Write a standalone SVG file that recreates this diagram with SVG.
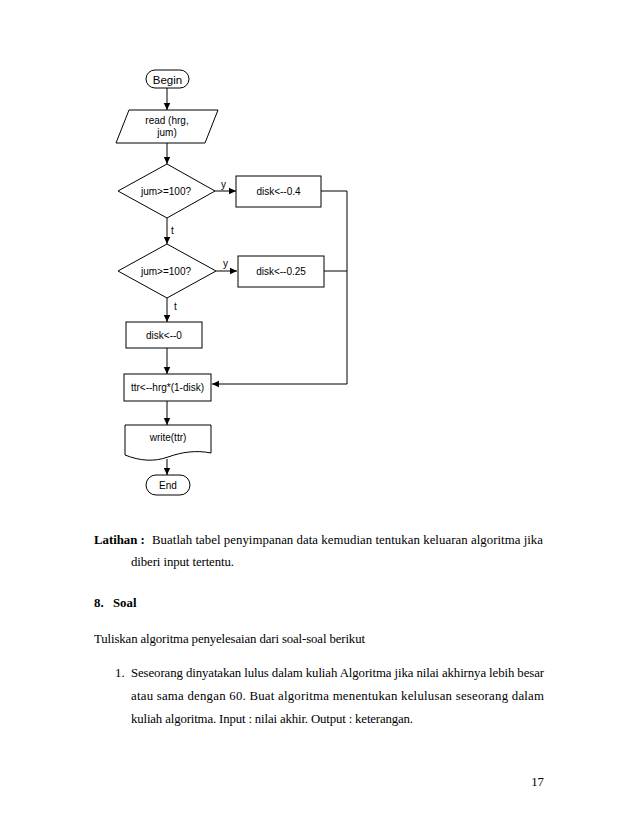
<svg xmlns="http://www.w3.org/2000/svg" width="638" height="826" viewBox="0 0 638 826">
<style>
.s{fill:#fff;stroke:#000;stroke-width:1}
.c{fill:none;stroke:#000;stroke-width:1}
.f{font-family:"Liberation Sans",Arial,sans-serif;font-size:10px;fill:#000}
.p{font-family:"Liberation Serif","Times New Roman",serif;font-size:12.8px;fill:#000}
.b{font-weight:bold}
</style>
<defs>
<marker id="a" markerWidth="8" markerHeight="8" refX="7" refY="4" orient="auto" markerUnits="userSpaceOnUse">
<path d="M0,0.8 L7,4 L0,7.2 Z" fill="#000"/>
</marker>
</defs>
<rect width="638" height="826" fill="#fff"/>
<g id="connectors">
<line class="c" x1="167" y1="88" x2="167" y2="110" marker-end="url(#a)"/>
<line class="c" x1="167" y1="143" x2="167" y2="164" marker-end="url(#a)"/>
<line class="c" x1="215" y1="191" x2="236" y2="191" marker-end="url(#a)"/>
<line class="c" x1="167" y1="218" x2="167" y2="244" marker-end="url(#a)"/>
<line class="c" x1="216" y1="271" x2="237" y2="271" marker-end="url(#a)"/>
<line class="c" x1="167" y1="298" x2="167" y2="322" marker-end="url(#a)"/>
<line class="c" x1="167" y1="348" x2="167" y2="374" marker-end="url(#a)"/>
<line class="c" x1="167" y1="401" x2="167" y2="425" marker-end="url(#a)"/>
<line class="c" x1="167" y1="459" x2="167" y2="475" marker-end="url(#a)"/>
<polyline class="c" points="321,191 347,191 347,384 212,384" marker-end="url(#a)"/>
<line class="c" x1="324" y1="271" x2="347" y2="271"/>
<text class="f" x="221" y="188">y</text>
<text class="f" x="223" y="267">y</text>
<text class="f" x="171" y="234">t</text>
<text class="f" x="174" y="310">t</text>
</g>
<g id="begin">
<rect class="s" x="146" y="70" width="43" height="18" rx="9"/>
<text class="f" x="167.5" y="83.5" text-anchor="middle" style="font-size:11.5px">Begin</text>
</g>
<g id="read">
<polygon class="s" points="129,110 218,110 205,143 116,143"/>
<text class="f" x="167" y="124" text-anchor="middle">read (hrg,</text>
<text class="f" x="167" y="136" text-anchor="middle">jum)</text>
</g>
<g id="dec1">
<polygon class="s" points="167,164 215,191 167,218 118,191"/>
<text class="f" x="166" y="194.5" text-anchor="middle">jum&gt;=100?</text>
</g>
<g id="disk04">
<rect class="s" x="236" y="176" width="85" height="31"/>
<text class="f" x="278.5" y="194.5" text-anchor="middle">disk&lt;--0.4</text>
</g>
<g id="dec2">
<polygon class="s" points="167,244 216,271 167,298 118,271"/>
<text class="f" x="166" y="274.5" text-anchor="middle">jum&gt;=100?</text>
</g>
<g id="disk025">
<rect class="s" x="238" y="256" width="86" height="31"/>
<text class="f" x="281" y="274.5" text-anchor="middle">disk&lt;--0.25</text>
</g>
<g id="disk0">
<rect class="s" x="126" y="322" width="76" height="26"/>
<text class="f" x="164" y="338.5" text-anchor="middle">disk&lt;--0</text>
</g>
<g id="ttr">
<rect class="s" x="124" y="374" width="87" height="27"/>
<text class="f" x="167.5" y="390.5" text-anchor="middle">ttr&lt;--hrg*(1-disk)</text>
</g>
<g id="write">
<path class="s" d="M125,425 L211,425 L211,453 C196,450 182,452 168,457 C154,462 140,461 125,455 Z"/>
<text class="f" x="168" y="441" text-anchor="middle">write(ttr)</text>
</g>
<g id="end">
<rect class="s" x="146" y="475" width="44" height="20" rx="10"/>
<text class="f" x="168" y="489" text-anchor="middle">End</text>
</g>
<text class="p b" x="94" y="544">Latihan :</text>
<text class="p" x="152" y="544" textLength="391" lengthAdjust="spacing">Buatlah tabel penyimpanan data kemudian tentukan keluaran algoritma jika</text>
<text class="p" x="131" y="566" textLength="103" lengthAdjust="spacing">diberi input tertentu.</text>
<text class="p b" x="94" y="607">8.</text>
<text class="p b" x="113" y="607">Soal</text>
<text class="p" x="94" y="643" textLength="271" lengthAdjust="spacing">Tuliskan algoritma penyelesaian dari soal-soal berikut</text>
<text class="p" x="115" y="677">1.</text>
<text class="p" x="131" y="677" textLength="413" lengthAdjust="spacing">Seseorang dinyatakan lulus dalam kuliah Algoritma jika nilai akhirnya lebih besar</text>
<text class="p" x="131" y="700" textLength="413" lengthAdjust="spacing">atau sama dengan 60. Buat algoritma menentukan kelulusan seseorang dalam</text>
<text class="p" x="131" y="723" textLength="282" lengthAdjust="spacing">kuliah algoritma. Input : nilai akhir. Output : keterangan.</text>
<text class="p" x="544" y="786" text-anchor="end">17</text>
</svg>
